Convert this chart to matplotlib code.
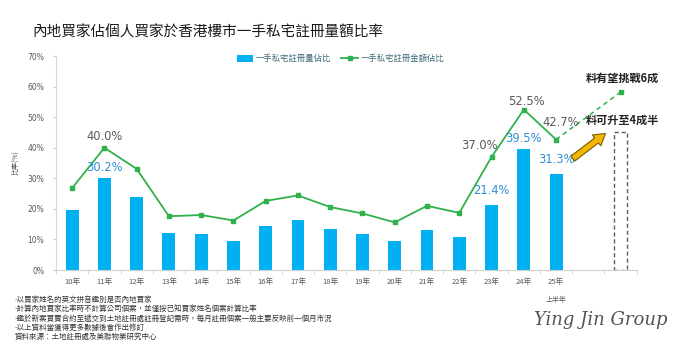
import matplotlib
matplotlib.use("Agg")
import matplotlib.pyplot as plt
import numpy as np

plt.rcParams['font.family'] = ['Noto Sans CJK TC', 'DejaVu Sans']

# ---------------------------------------------------------------- data ---- #
years = ["10年", "11年", "12年", "13年", "14年", "15年", "16年", "17年",
         "18年", "19年", "20年", "21年", "22年", "23年", "24年", "25年"]
volume_share = [19.5, 30.2, 24.0, 12.0, 11.7, 9.4, 14.5, 16.4,
                13.4, 11.7, 9.6, 13.1, 10.7, 21.4, 39.5, 31.3]
amount_share = [26.8, 40.0, 33.1, 17.6, 18.0, 16.2, 22.6, 24.4,
                20.6, 18.5, 15.6, 21.0, 18.7, 37.0, 52.5, 42.7]
amount_forecast = 58.2
volume_forecast = 45.0

bar_labels = {1: "30.2%", 13: "21.4%", 14: "39.5%", 15: "31.3%"}
line_labels = {1: "40.0%", 13: "37.0%", 14: "52.5%", 15: "42.7%"}

notes = ["-以買家姓名的英文拼音鑑別是否內地買家",
         "-計算內地買家比率時不計算公司個案，並僅按已知買家姓名個案計算比率",
         "-鑑於新案買賣合約至遞交到土地註冊處註冊登記需時，每月註冊個案一般主要反映前一個月市況",
         "-以上資料當獲得更多數據後會作出修訂",
         "資料來源：土地註冊處及美聯物業研究中心"]

# --------------------------------------------------------------- style ---- #
BLUE = "#00b0f0"
GREEN = "#2fb24c"
LABEL_BLUE = "#2e8fd6"
GREY = "#595959"

fig = plt.figure(figsize=(6.81, 3.55), dpi=100)
ax = fig.add_axes([0.0822, 0.2394, 0.8528, 0.6026])

x = np.arange(len(years))
fx = len(years) + 1  # forecast slot

bars = ax.bar(x, volume_share, width=0.4, color=BLUE, label="一手私宅註冊量佔比", zorder=2)
line, = ax.plot(x, amount_share, color=GREEN, lw=1.3, marker="s", ms=2.8,
                label="一手私宅註冊金額佔比", zorder=3)
ax.plot([x[-1], fx], [amount_share[-1], amount_forecast], color=GREEN,
        lw=1.1, ls=(0, (3, 2.5)), zorder=3)
ax.plot([fx], [amount_forecast], color=GREEN, marker="s", ms=2.8, zorder=3)

# dashed box for forecast volume share
ax.bar([fx], [volume_forecast], width=0.4, facecolor="none",
       edgecolor="#4f6358", lw=1.0, ls=(0, (3, 2)), zorder=2)

# value labels
offsets_bar = {1: (0, 7), 13: (0, 10), 14: (0, 8), 15: (0, 11)}
for i, s in bar_labels.items():
    ax.annotate(s, (i, volume_share[i]), xytext=offsets_bar[i], textcoords="offset points",
                ha="center", va="center", fontsize=8.3, color=LABEL_BLUE, family="DejaVu Sans")
offsets_line = {1: (0, 8), 13: (-9, 8), 14: (2, 6), 15: (3, 12)}
for i, s in line_labels.items():
    ax.annotate(s, (i, amount_share[i]), xytext=offsets_line[i], textcoords="offset points",
                ha="center", va="center", fontsize=8.3, color=GREY, family="DejaVu Sans")

ax.annotate("料有望挑戰6成", (fx, amount_forecast), xytext=(1, 10), textcoords="offset points",
            ha="center", va="center", fontsize=8, fontweight="bold", color="#222222")
ax.annotate("料可升至4成半", (fx, volume_forecast), xytext=(1, 9), textcoords="offset points",
            ha="center", va="center", fontsize=8, fontweight="bold", color="#222222")

# yellow arrow
ax.annotate("", xy=(16.6, 45.2), xytext=(15.45, 35.9),
            arrowprops=dict(arrowstyle="simple,head_length=0.9,head_width=1.1,tail_width=0.5",
                            fc="#f2b705", ec="#7a5c00", lw=0.8, mutation_scale=9), zorder=4)

# axes
ax.set_xlim(-0.5, fx + 0.5)
ax.set_ylim(0, 70)
ax.set_yticks(range(0, 71, 10))
ax.set_yticklabels([f"{v}%" for v in range(0, 71, 10)], fontsize=5.5, color=GREY,
                   family="DejaVu Sans")
ax.set_xticks(x)
ax.set_xticklabels(years, fontsize=5.5, color=GREY)
ax.set_xticks(np.arange(-0.5, fx + 1, 1), minor=True)
ax.tick_params(axis="x", which="major", length=0, pad=6)
ax.tick_params(axis="x", which="minor", length=3, color="#d0d0d0")
ax.tick_params(axis="y", length=2.5, color="#d0d0d0", pad=6)
for side in ["top", "right"]:
    ax.spines[side].set_visible(False)
ax.spines["left"].set_color("#d9d9d9")
ax.spines["bottom"].set_color("#d0d0d0")
ax.set_ylabel("比率(%)", fontsize=5, color=GREY, labelpad=6)

ax.text(15, -9.8, "上半年", ha="center", va="center", fontsize=5, color=GREY)

fig.legend([bars, line], ["一手私宅註冊量佔比", "一手私宅註冊金額佔比"],
           loc="center", bbox_to_anchor=(0.50, 0.834), ncol=2, frameon=False,
           fontsize=6, labelcolor="#3d6b78", handlelength=2.0, handleheight=0.8,
           columnspacing=1.2, handletextpad=0.3)

fig.text(0.047, 0.907, "內地買家佔個人買家於香港樓市一手私宅註冊量額比率",
         fontsize=10.5, color="#1a1a1a", va="center", ha="left", fontweight="medium")

for k, note in enumerate(notes):
    fig.text(0.022, 1 - (300 + k * 9.2) / 355, note, fontsize=5.4, color="#333333",
             va="center", ha="left")

fig.text(0.882, 1 - 320 / 355, "Ying Jin Group", fontsize=13, style="italic",
         family="DejaVu Serif", color="#555555", ha="center", va="center")

fig.savefig("out.png", dpi=100)
